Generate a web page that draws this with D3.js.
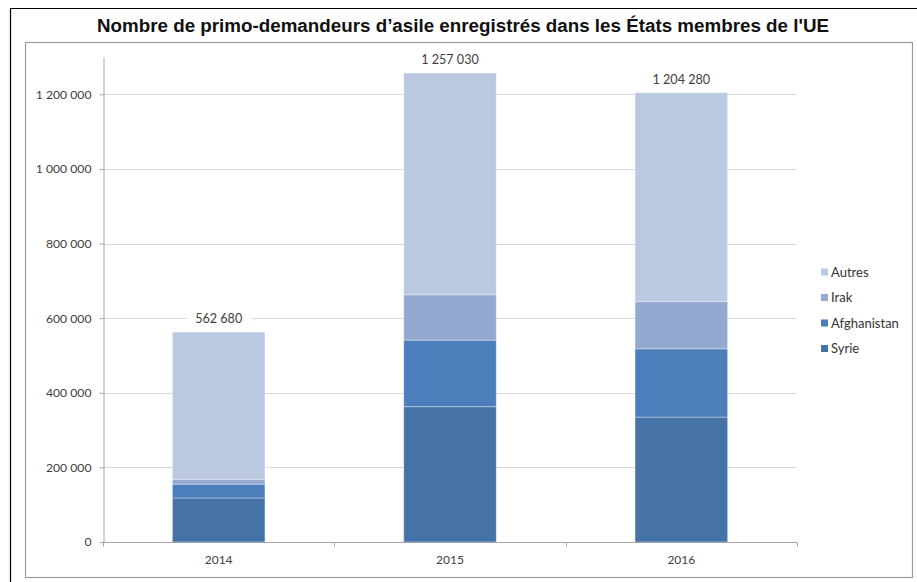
<!DOCTYPE html>
<html>
<head>
<meta charset="utf-8">
<script src="https://cdn.jsdelivr.net/npm/d3@7/dist/d3.min.js"></script>
<style>
  body { margin: 0; background: #fff; }
  svg text { font-family: Lato, "Open Sans", sans-serif; }
</style>
</head>
<body>
<div id="chart"></div>
<script>
// Data
const years = ["2014", "2015", "2016"];
const series = ["Syrie", "Afghanistan", "Irak", "Autres"];
const syrie = [118000, 362775, 334820];
const afghanistan = [37000, 178230, 182985];
const irak = [13000, 121535, 127000];
const totals = [562680, 1257030, 1204280];
const autres = totals.map((t, i) => t - syrie[i] - afghanistan[i] - irak[i]);
const yTicks = [0, 200000, 400000, 600000, 800000, 1000000, 1200000];
const colors = ["#4573A7", "#4B7EBB", "#93A9D0", "#BBC8E1"];

const W = 917, H = 582;
const svg = d3.select("#chart").append("svg")
  .attr("width", W).attr("height", H);

// outer frame and inner chart frame
svg.append("path")
  .attr("d", "M10.5,582 V8.5 H917")
  .attr("fill", "none").attr("stroke", "#000").attr("stroke-width", 1.2);
svg.append("rect")
  .attr("x", 25.5).attr("y", 42.5).attr("width", 887).attr("height", 535)
  .attr("fill", "none").attr("stroke", "#9a9a9a").attr("stroke-width", 1.2);

// Title
svg.append("text")
  .attr("x", 463).attr("y", 32)
  .attr("text-anchor", "middle")
  .style("font-family", "'Liberation Sans', Arial, sans-serif")
  .style("font-weight", "bold").style("font-size", "18.8px")
  .attr("fill", "#111")
  .text("Nombre de primo-demandeurs d\u2019asile enregistrés dans les États membres de l'UE");

const rows = years.map((y, i) => ({
  year: y, Syrie: syrie[i], Afghanistan: afghanistan[i], Irak: irak[i], Autres: autres[i]
}));

const x = d3.scaleBand()
  .domain(years)
  .range([103, 797])
  .paddingInner(0.6)
  .paddingOuter(0.3);

const y = d3.scaleLinear()
  .domain([0, 1300000])
  .range([542, 57]);

const fmt = v => d3.format(",")(v).replace(/,/g, " ");

// gridlines
svg.append("g")
  .selectAll("line")
  .data(yTicks.slice(1))
  .enter().append("line")
  .attr("x1", 103).attr("x2", 797)
  .attr("y1", d => Math.round(y(d)) + 0.5).attr("y2", d => Math.round(y(d)) + 0.5)
  .attr("stroke", "#d9d9d9").attr("stroke-width", 1);

// Y axis
const yAxis = svg.append("g")
  .attr("transform", "translate(103.5,0)")
  .call(d3.axisLeft(y).tickValues(yTicks).tickFormat(fmt).tickSize(4).tickSizeOuter(0).tickPadding(8));
yAxis.select(".domain").attr("stroke", "#a6a6a6");
yAxis.selectAll(".tick line").attr("stroke", "#a6a6a6");
yAxis.selectAll(".tick text")
  .style("font-size", "12.2px").attr("fill", "#404040")
  .style("font-family", "Lato, 'Open Sans', sans-serif");

// stacked bars
const stack = d3.stack().keys(series)(rows);
const color = d3.scaleOrdinal().domain(series).range(colors);

svg.append("g")
  .selectAll("g")
  .data(stack)
  .enter().append("g")
  .attr("fill", d => color(d.key))
  .selectAll("rect")
  .data(d => d)
  .enter().append("rect")
  .attr("x", d => x(d.data.year))
  .attr("y", d => y(d[1]))
  .attr("width", x.bandwidth())
  .attr("height", d => y(d[0]) - y(d[1]))
  .attr("stroke", "rgba(255,255,255,0.35)")
  .attr("stroke-width", 1);

// X axis
const xAxis = svg.append("g")
  .attr("transform", "translate(0,542.5)")
  .call(d3.axisBottom(x).tickSize(0).tickPadding(13));
xAxis.select(".domain").attr("stroke", "#a6a6a6").attr("d", "M103,0H797");
xAxis.selectAll(".tick text")
  .style("font-size", "12px").attr("fill", "#404040")
  .style("font-family", "Lato, 'Open Sans', sans-serif");
// category boundary ticks
xAxis.append("g")
  .selectAll("line")
  .data([0, 1, 2, 3])
  .enter().append("line")
  .attr("x1", i => Math.round(103 + i * x.step()) + 0.5)
  .attr("x2", i => Math.round(103 + i * x.step()) + 0.5)
  .attr("y1", 0).attr("y2", 4)
  .attr("stroke", "#a6a6a6");

// total labels with white box
const lbl = svg.append("g")
  .selectAll("g")
  .data(rows.map((r, i) => ({ year: r.year, total: totals[i] })))
  .enter().append("g")
  .attr("transform", d => `translate(${x(d.year) + x.bandwidth() / 2},${y(d.total) - 13})`);
lbl.append("rect")
  .attr("x", -32).attr("y", -8).attr("width", 64).attr("height", 16)
  .attr("fill", "#fff");
lbl.append("text")
  .attr("text-anchor", "middle").attr("dy", "0.35em")
  .style("font-size", "12.6px").attr("fill", "#404040")
  .text(d => fmt(d.total));

// legend
const legend = svg.append("g")
  .selectAll("g")
  .data(series.slice().reverse())
  .enter().append("g")
  .attr("transform", (d, i) => `translate(821,${272 + i * 25.5})`);
legend.append("rect")
  .attr("x", 0).attr("y", -3.5).attr("width", 7).attr("height", 7)
  .attr("fill", d => color(d));
legend.append("text")
  .attr("x", 10).attr("dy", "0.35em")
  .style("font-size", "13px").attr("fill", "#333")
  .text(d => d);
</script>
</body>
</html>
